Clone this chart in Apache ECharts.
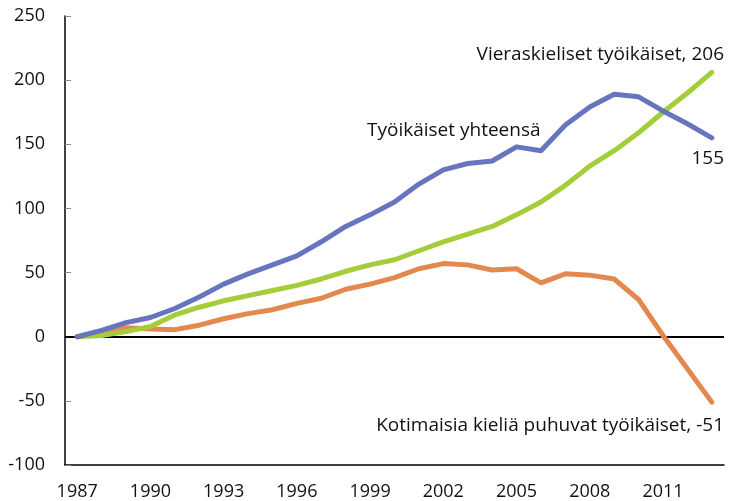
<!doctype html>
<html>
<head>
    <meta charset="utf-8">
    <title>Työikäiset</title>
    <script src="https://cdn.jsdelivr.net/npm/echarts@6/dist/echarts.min.js"></script>
</head>
<style>
    html, body { margin: 0; padding: 0; background: #fff; }
    #chart { width: 729px; height: 501px; }
</style>
<body>
<div id="chart"></div>
<script>
  var years = [];
  for (var y = 1987; y <= 2013; y++) years.push(String(y));

  // Työikäiset yhteensä
  var total = [0, 5, 11, 15, 22, 31, 41, 49, 56, 63, 74, 86, 95, 105, 119, 130, 135, 137, 148, 145, 165, 179, 189, 187, 176, 166, 155];
  // Vieraskieliset työikäiset
  var foreign = [0, 1, 4, 8, 17, 23, 28, 32, 36, 40, 45, 51, 56, 60, 67, 74, 80, 86, 95, 105, 118, 133, 145, 159, 175, 190, 206];
  // Kotimaisia kieliä puhuvat työikäiset
  var domestic = [0, 3, 7, 6, 5.5, 9, 14, 18, 21, 26, 30, 37, 41, 46, 53, 57, 56, 52, 53, 42, 49, 48, 45, 29, 1, -25, -51];

  var font = 'Open Sans';
  var chart = echarts.init(document.getElementById('chart'));

  function line(name, data, color) {
    return {
      name: name,
      type: 'line',
      data: data,
      symbol: 'none',
      smooth: false,
      lineStyle: { color: color, width: 5, cap: 'round', join: 'round' },
      itemStyle: { color: color },
      z: 3
    };
  }

  function note(text, pos) {
    var el = { type: 'text', top: pos.top, style: { text: text, font: '19px "' + font + '"', fill: '#111' } };
    if (pos.left != null) el.left = pos.left; else el.right = pos.right;
    return el;
  }

  var option = {
    animation: false,
    backgroundColor: '#fff',
    textStyle: { fontFamily: font },
    grid: { left: 65, right: 5, top: 16, bottom: 36 },
    xAxis: {
      type: 'category',
      data: years,
      boundaryGap: true,
      axisLine: { onZero: false, lineStyle: { color: '#000', width: 1.5 } },
      axisTick: { inside: true, length: 6, interval: 0, lineStyle: { color: '#888' } },
      axisLabel: { interval: 2, color: '#111', fontSize: 18, fontFamily: font, margin: 18 },
      splitLine: { show: false }
    },
    yAxis: {
      type: 'value',
      min: -100,
      max: 250,
      interval: 50,
      axisLine: { show: true, lineStyle: { color: '#000', width: 1.5 } },
      axisTick: { show: true, inside: true, length: 6, lineStyle: { color: '#888' } },
      axisLabel: { color: '#111', fontSize: 18, fontFamily: font, margin: 20 },
      splitLine: { show: false }
    },
    series: [
      line('Kotimaisia kieliä puhuvat työikäiset', domestic, '#E3894F'),
      line('Vieraskieliset työikäiset', foreign, '#A3CD39'),
      Object.assign(line('Työikäiset yhteensä', total, '#6774BE'), {
        markLine: {
          silent: true,
          symbol: 'none',
          label: { show: false },
          lineStyle: { color: '#000', width: 2, type: 'solid' },
          data: [{ yAxis: 0 }],
          z: 1
        }
      })
    ],
    graphic: [
      note('Vieraskieliset työikäiset, 206', { right: 5, top: 45 }),
      note('Työikäiset yhteensä', { left: 367, top: 121 }),
      note('155', { right: 5, top: 149 }),
      note('Kotimaisia kieliä puhuvat työikäiset, -51', { right: 5, top: 416 })
    ]
  };

  chart.setOption(option);
</script>
</body>
</html>
